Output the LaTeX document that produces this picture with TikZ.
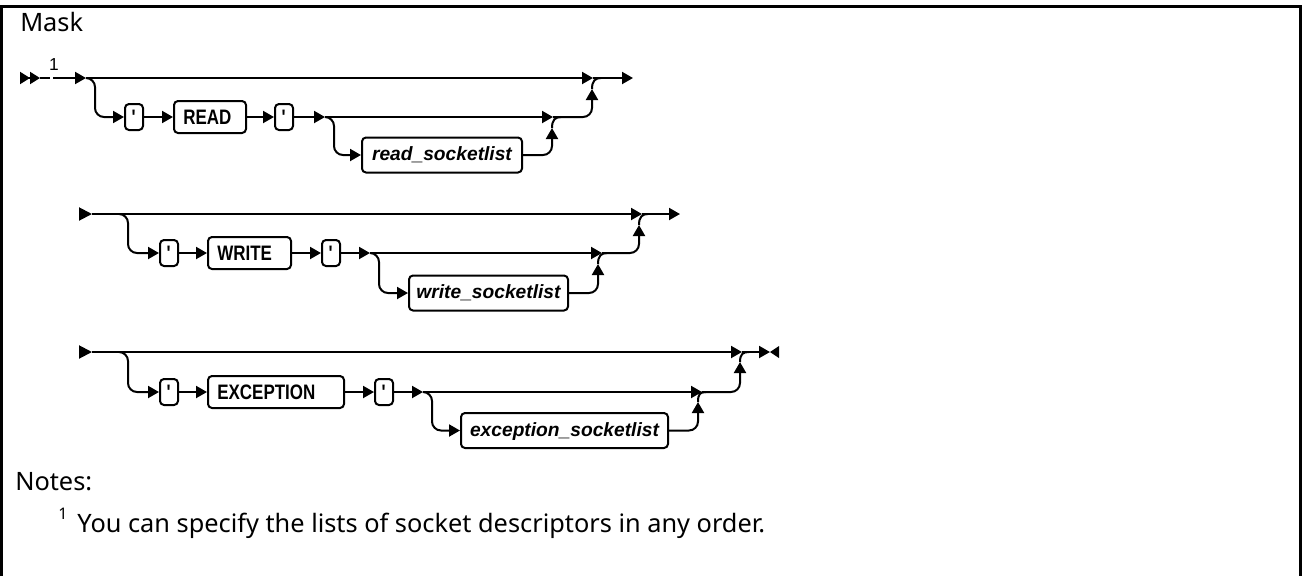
\documentclass[tikz,border=0pt]{standalone}
\usepackage{fontspec}
\setmainfont{Noto Sans}
\newfontfamily\kwfont{Liberation Sans}[FakeStretch=0.81]
\newfontfamily\varfont{Liberation Sans}
\usetikzlibrary{arrows.meta}
\begin{document}
\begin{tikzpicture}[x=0.75pt,y=-0.75pt,
  ln/.style={line width=1.5pt, draw=black},
  >={Triangle[length=8.25pt,width=9pt]},
  rc/.style={rounded corners=6.75pt},
  kwbox/.style={draw=black, line width=1.5pt, rounded corners=3pt, anchor=west, minimum height=24pt, inner xsep=7pt, inner ysep=0pt, text width=#1, align=left, font=\kwfont\bfseries\fontsize{15.7}{16}\selectfont, text height=11.3pt, text depth=0pt},
  qbox/.style={draw=black, line width=1.5pt, rounded corners=3pt, minimum width=13.5pt, minimum height=19.5pt, inner sep=0pt, font=\kwfont\bfseries\fontsize{15.7}{16}\selectfont, text height=11.3pt, text depth=0pt},
  varbox/.style={draw=black, line width=1.5pt, rounded corners=3pt, minimum width=#1, minimum height=26.25pt, inner sep=0pt, font=\varfont\bfseries\itshape\fontsize{14.4}{15}\selectfont, text height=10.5pt, text depth=2pt},
  txt/.style={font=\fontsize{19}{23}\selectfont, inner sep=0pt, anchor=base west},
  starttip/.style={-{Triangle[length=9.75pt,width=9.75pt]}},
  jn/.style={line width=1.5pt, draw=black}
]
\useasboundingbox (0,0) rectangle (1304,576);
% frame
\draw[line width=2.25pt, draw=black] (1.5,576) -- (1.5,6) -- (1300,6) -- (1300,576);

% texts
\node[txt] (mask) at (20,31) {Mask};
\node[txt] (notes) at (15,490) {Notes:};
\node[txt] (fn) at (58,532) {\raisebox{9.75pt}{\fontsize{12}{12}\selectfont 1}\hspace{7.5pt}You can specify the lists of socket descriptors in any order.};

% ---------------- Row 1 ----------------
\coordinate (s1) at (20,78);
\coordinate (s1e) at (40,78);
\coordinate (g1a) at (50,78);
\coordinate (g1b) at (53,78);
\coordinate (b1) at (86,78);
\coordinate (j1a) at (593,78);
\coordinate (e1) at (633,78);
\coordinate (j1t) at (592,89);
\coordinate (j1m) at (601,78);
\coordinate (b12) at (325,117);
\coordinate (j12a) at (553,117);
\coordinate (j12t) at (552,128);
\coordinate (j12m) at (561,117);
\node[font=\varfont\fontsize{13}{13}\selectfont, anchor=base, inner sep=0pt] (n1) at (54,70) {1};
\node[qbox] (q11) at (134,117) {\textquotesingle};
\node[kwbox=40pt] (rd) at (173,117) {READ};
\node[qbox] (q12) at (284,117) {\textquotesingle};
\node[varbox=120pt] (rsl) at (442,155) {read\_socketlist};

\draw[ln,-{Triangle[length=7.5pt,width=9pt]Triangle[length=7.5pt,width=9pt]}] (s1) -- (s1e);
\draw[ln] (s1e) -- (g1a);
\draw[ln,->] (g1b) -- (b1);
\draw[ln,->] (b1) -- (j1a);
\draw[ln,->] (j1a) -- (e1);
\draw[ln,->,rc] (b1) -- ++(9,0) |- (q11.west);
\draw[ln,->] (q11) -- (rd);
\draw[ln,->] (rd) -- (q12);
\draw[ln,->] (q12) -- (b12);
\draw[ln,->] (b12) -- (j12a);
\draw[ln,->,rc] (b12) -- ++(9,0) |- (rsl.west);
\draw[ln,->,rc] (rsl.east) -| (j12t);
\draw[jn] (j12t) .. controls +(0,-8) and +(-6,0) .. (j12m);
\draw[ln,->,rc] (j12a) -| (j1t);
\draw[jn] (j1t) .. controls +(0,-8) and +(-6,0) .. (j1m);

% ---------------- Row 2 ----------------
\coordinate (s2) at (79,214);
\coordinate (s2e) at (92,214);
\coordinate (b21) at (119,214);
\coordinate (j21a) at (642,214);
\coordinate (e2) at (680,214);
\coordinate (j21t) at (639,225);
\coordinate (j21m) at (648,214);
\coordinate (b22) at (370,253);
\coordinate (j22a) at (602,253);
\coordinate (j22t) at (598,264);
\coordinate (j22m) at (607,253);
\node[qbox] (q21) at (169,253) {\textquotesingle};
\node[kwbox=48.25pt] (wr) at (207,253) {WRITE};
\node[qbox] (q22) at (331,253) {\textquotesingle};
\node[varbox=119.25pt] (wsl) at (488.5,293) {write\_socketlist};

\draw[ln,starttip] (s2) -- (s2e);
\draw[ln,->] (s2e) -- (j21a);
\draw[ln,->] (j21a) -- (e2);
\draw[ln,->,rc] (b21) -- ++(9,0) |- (q21.west);
\draw[ln,->] (q21) -- (wr);
\draw[ln,->] (wr) -- (q22);
\draw[ln,->] (q22) -- (b22);
\draw[ln,->] (b22) -- (j22a);
\draw[ln,->,rc] (b22) -- ++(9,0) |- (wsl.west);
\draw[ln,->,rc] (wsl.east) -| (j22t);
\draw[jn] (j22t) .. controls +(0,-8) and +(-6,0) .. (j22m);
\draw[ln,->,rc] (j22a) -| (j21t);
\draw[jn] (j21t) .. controls +(0,-8) and +(-6,0) .. (j21m);

% ---------------- Row 3 ----------------
\coordinate (s3) at (79,352);
\coordinate (s3e) at (92,352);
\coordinate (b31) at (119,352);
\coordinate (j31a) at (742,352);
\coordinate (e3) at (770,352);
\coordinate (j31t) at (740,362);
\coordinate (j31m) at (749,352);
\coordinate (b32) at (423,392);
\coordinate (j32a) at (702,392);
\coordinate (j32t) at (698,402);
\coordinate (j32m) at (706,392);
\node[qbox] (q31) at (169,392) {\textquotesingle};
\node[kwbox=88pt] (ex) at (207,392) {EXCEPTION};
\node[qbox] (q32) at (384,392) {\textquotesingle};
\node[varbox=155.25pt] (esl) at (564.5,430.5) {exception\_socketlist};

\draw[ln,starttip] (s3) -- (s3e);
\draw[ln,->] (s3e) -- (j31a);
\draw[ln,->] (j31a) -- (e3);
\fill[black] (e3) -- ++(9,-6) -- ++(0,12) -- cycle;
\draw[ln,->,rc] (b31) -- ++(9,0) |- (q31.west);
\draw[ln,->] (q31) -- (ex);
\draw[ln,->] (ex) -- (q32);
\draw[ln,->] (q32) -- (b32);
\draw[ln,->] (b32) -- (j32a);
\draw[ln,->,rc] (b32) -- ++(9,0) |- (esl.west);
\draw[ln,->,rc] (esl.east) -| (j32t);
\draw[jn] (j32t) .. controls +(0,-8) and +(-6,0) .. (j32m);
\draw[ln,->,rc] (j32a) -| (j31t);
\draw[jn] (j31t) .. controls +(0,-8) and +(-6,0) .. (j31m);
\end{tikzpicture}
\end{document}
